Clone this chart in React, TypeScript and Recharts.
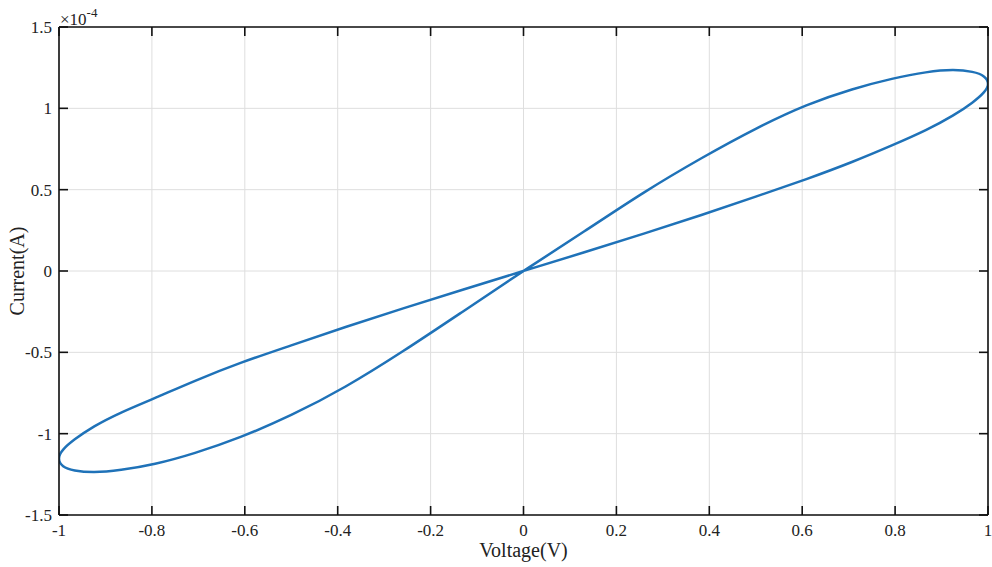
import { LineChart, Line, XAxis, YAxis, CartesianGrid, Label } from "recharts";

// voltage samples along the sweep (0 -> 1 -> 0 -> -1 -> 0)
const voltage = [
  0, 0.131, 0.259, 0.383, 0.5, 0.609, 0.707, 0.793, 0.866, 0.924, 0.966, 0.991, 1.0,
  0.991, 0.966, 0.924, 0.866, 0.793, 0.707, 0.609, 0.5, 0.383, 0.259, 0.131, 0,
  -0.131, -0.259, -0.383, -0.5, -0.609, -0.707, -0.793, -0.866, -0.924, -0.966, -0.991, -1.0,
  -0.991, -0.966, -0.924, -0.866, -0.793, -0.707, -0.609, -0.5, -0.383, -0.259, -0.131, 0,
];

// current read at those voltages, in units of 1e-4 A
const current = [
  0, 0.244, 0.482, 0.693, 0.874, 1.018, 1.116, 1.181, 1.221, 1.235, 1.224, 1.196, 1.15,
  1.098, 1.035, 0.955, 0.866, 0.772, 0.67, 0.565, 0.457, 0.344, 0.23, 0.115, 0,
  -0.115, -0.23, -0.344, -0.457, -0.565, -0.675, -0.78, -0.87, -0.955, -1.035, -1.098, -1.152,
  -1.2, -1.226, -1.236, -1.222, -1.185, -1.118, -1.02, -0.885, -0.71, -0.492, -0.25, 0,
];

const xTicks = [-1, -0.8, -0.6, -0.4, -0.2, 0, 0.2, 0.4, 0.6, 0.8, 1];
const yTicks = [-1.5, -1, -0.5, 0, 0.5, 1, 1.5];

const data = voltage.map((v, i) => ({ v, i: current[i] }));

const font = "'Liberation Serif', 'Times New Roman', serif";
const tickStyle = { fontSize: 17, fill: "#222", fontFamily: font };
const axisLine = { stroke: "#111", strokeWidth: 1.6 };
const tickLine = { stroke: "#111", strokeWidth: 1.6 };
const blank = () => "";

export default function App() {
  return (
    <div style={{ position: "absolute", left: 0, top: 0, width: 992, height: 567, background: "#fff" }}>
      <div
        style={{
          position: "absolute",
          left: 60,
          top: 11,
          fontFamily: font,
          fontSize: 17,
          lineHeight: "17px",
          color: "#222",
          whiteSpace: "nowrap",
        }}
      >
        ×10
        <span style={{ fontSize: 13, position: "relative", top: -8 }}>-4</span>
      </div>
      <LineChart width={992} height={567} data={data} margin={{ top: 26, right: 3, bottom: 0, left: 0 }}>
        <CartesianGrid stroke="#dedede" strokeWidth={1} />
        <XAxis
          dataKey="v"
          type="number"
          domain={[-1, 1]}
          ticks={xTicks}
          height={52}
          tickSize={-9}
          tickMargin={18}
          tick={tickStyle}
          axisLine={axisLine}
          tickLine={tickLine}
          interval={0}
          allowDataOverflow
        >
          <Label
            value="Voltage(V)"
            position="insideBottom"
            offset={10}
            style={{ fontSize: 20, fill: "#222", fontFamily: font }}
          />
        </XAxis>
        <XAxis
          xAxisId="top"
          dataKey="v"
          orientation="top"
          type="number"
          domain={[-1, 1]}
          ticks={xTicks}
          height={1}
          tickSize={-9}
          tickFormatter={blank}
          axisLine={axisLine}
          tickLine={tickLine}
          interval={0}
          allowDataOverflow
        />
        <YAxis
          type="number"
          domain={[-1.5, 1.5]}
          ticks={yTicks}
          width={59}
          tickSize={-9}
          tickMargin={16}
          tick={tickStyle}
          axisLine={axisLine}
          tickLine={tickLine}
          interval={0}
          allowDataOverflow
        >
          <Label
            value="Current(A)"
            angle={-90}
            position="insideLeft"
            offset={17}
            style={{ fontSize: 20, fill: "#222", fontFamily: font, textAnchor: "middle" }}
          />
        </YAxis>
        <YAxis
          yAxisId="right"
          dataKey="i"
          orientation="right"
          type="number"
          domain={[-1.5, 1.5]}
          ticks={yTicks}
          width={1}
          tickSize={-9}
          tickFormatter={blank}
          axisLine={axisLine}
          tickLine={tickLine}
          interval={0}
          allowDataOverflow
        />
        <Line
          dataKey="i"
          type="natural"
          stroke="#1f72b8"
          strokeWidth={2.5}
          dot={false}
          isAnimationActive={false}
        />
      </LineChart>
    </div>
  );
}
